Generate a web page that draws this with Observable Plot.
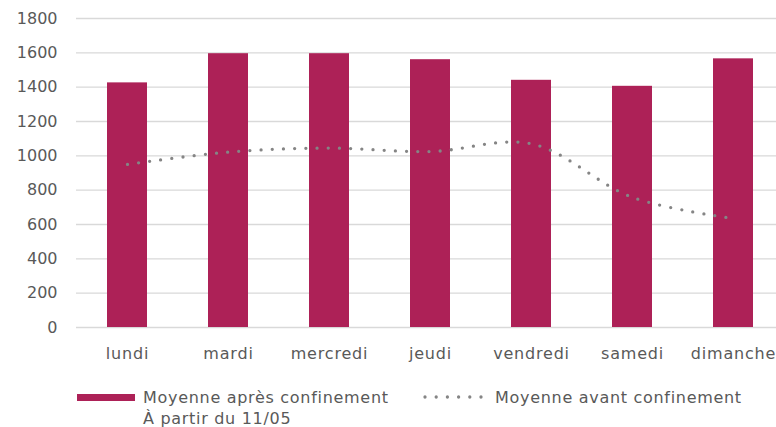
<!DOCTYPE html>
<html>
<head>
<meta charset="utf-8">
<script src="https://cdn.jsdelivr.net/npm/d3@7"></script>
<script src="https://cdn.jsdelivr.net/npm/@observablehq/plot@0.6"></script>
<style>
  html, body { margin: 0; padding: 0; background: #fff; }
  body { width: 776px; height: 427px; overflow: hidden; font-family: "DejaVu Sans", sans-serif; }
  #legend { position: relative; height: 40px; font-size: 16px; color: #595959; line-height: 21px; letter-spacing: 0.7px; }
  .item { position: absolute; top: 0; white-space: nowrap; }
  .sw { position: absolute; }
  .xax text { letter-spacing: 0.8px; }
</style>
</head>
<body>
<div id="chart"></div>
<div id="legend">
  <div class="sw" style="left:77px; top:7px; width:58px; height:7px; background:#ad2157;"></div>
  <div class="item" style="left:143px;">Moyenne après confinement<br>À partir du 11/05</div>
  <svg class="sw" style="left:420px; top:4px;" width="72" height="12">
    <line x1="5" y1="6" x2="68" y2="6" stroke="#858585" stroke-width="3.3" stroke-linecap="round" stroke-dasharray="0 11.2"></line>
  </svg>
  <div class="item" style="left:495px;">Moyenne avant confinement</div>
</div>
<script>
const days = ["lundi", "mardi", "mercredi", "jeudi", "vendredi", "samedi", "dimanche"];
const after = [1425, 1595, 1595, 1560, 1440, 1405, 1565];
const before = [950, 1022, 1045, 1025, 1070, 758, 635];
const yTicks = [0, 200, 400, 600, 800, 1000, 1200, 1400, 1600, 1800];

const data = days.map((d, i) => ({day: d, after: after[i], before: before[i]}));

const chart = Plot.plot({
  width: 776,
  height: 387,
  marginTop: 18,
  marginBottom: 60,
  marginLeft: 76,
  marginRight: -8,
  style: {fontFamily: "DejaVu Sans, sans-serif", fontSize: "16px", color: "#595959", background: "#fff"},
  x: {domain: days, paddingInner: 0.6, paddingOuter: 0.3, label: null},
  y: {domain: [0, 1800], label: null},
  marks: [
    Plot.gridY(yTicks, {stroke: "#d9d9d9", strokeOpacity: 1, strokeWidth: 1.4}),
    Plot.barY(data, {x: "day", y: "after", fill: "#ad2157"}),
    Plot.line(data, {x: "day", y: "before", stroke: "#858585", strokeWidth: 3.3, strokeLinecap: "round", strokeDasharray: "0 11.2", curve: "catmull-rom"}),
    Plot.axisY(yTicks, {tickSize: 0, tickPadding: 19, fontSize: 16, label: null, tickFormat: d => String(d)}),
    Plot.axisX({tickSize: 0, tickPadding: 20, fontSize: 16, label: null, className: "xax"})
  ]
});
document.getElementById("chart").appendChild(chart);
</script>
</body>
</html>
